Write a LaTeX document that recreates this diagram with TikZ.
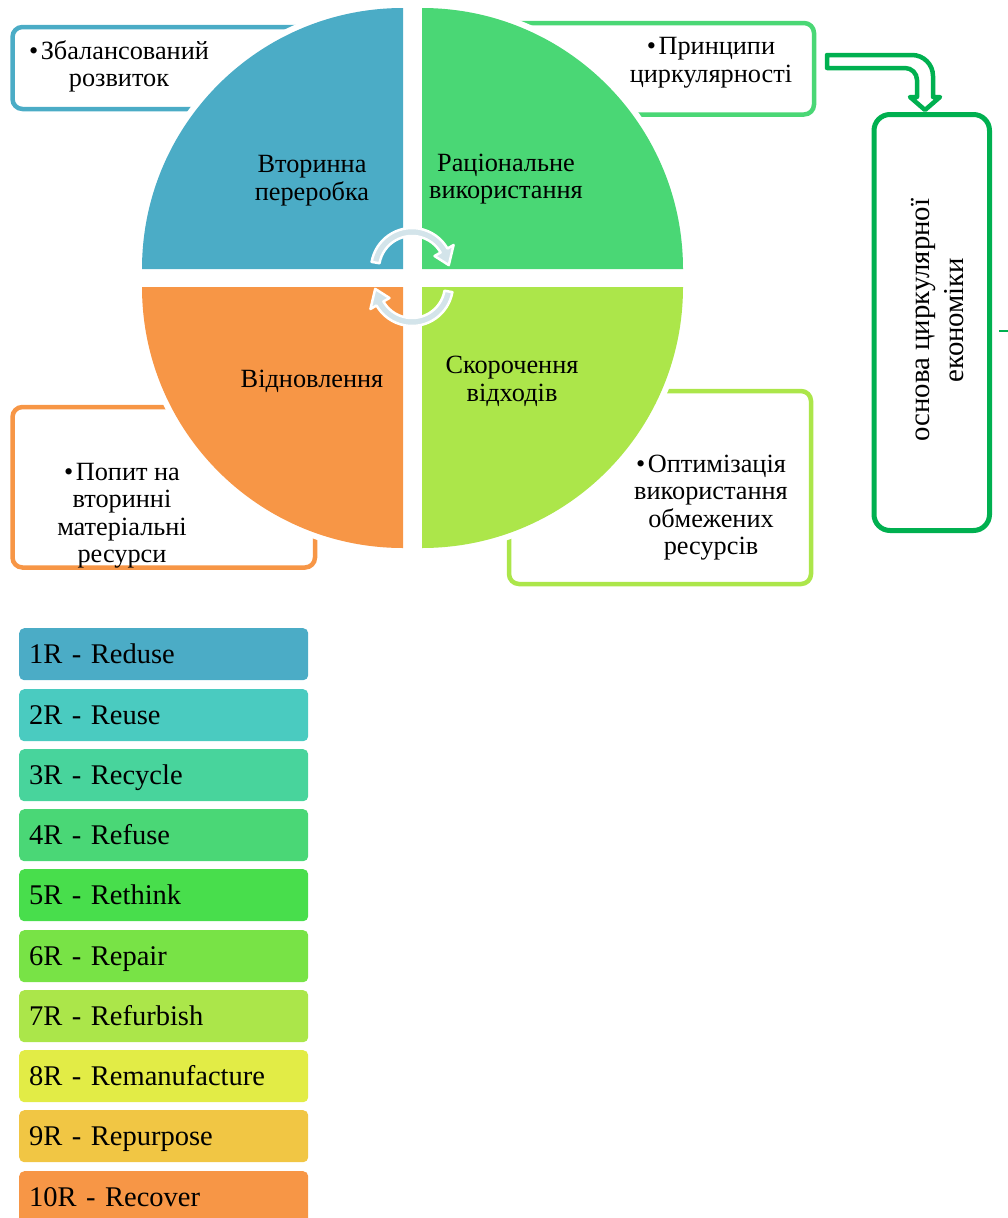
\documentclass[tikz,border=0pt]{standalone}
\usepackage{fontspec}
\setmainfont{Liberation Serif}
\usetikzlibrary{calc}
\definecolor{cBlue}{HTML}{4BACC6}
\definecolor{cGreen}{HTML}{4AD775}
\definecolor{cLime}{HTML}{ACE64A}
\definecolor{cOrange}{HTML}{F79646}
\definecolor{cDark}{HTML}{00B050}
\definecolor{cArrow}{HTML}{D3E4EA}
\definecolor{L1}{HTML}{4BACC6}
\definecolor{L2}{HTML}{4ACBC0}
\definecolor{L3}{HTML}{48D49C}
\definecolor{L4}{HTML}{4AD776}
\definecolor{L5}{HTML}{48DE4C}
\definecolor{L6}{HTML}{78E346}
\definecolor{L7}{HTML}{ABE64A}
\definecolor{L8}{HTML}{E2EC46}
\definecolor{L9}{HTML}{F1C644}
\definecolor{L10}{HTML}{F79646}
\newcommand\myqfont{\fontsize{26.3pt}{27.5pt}\selectfont}
\newcommand\myrotfont{\fontsize{28.8pt}{34pt}\selectfont}
\newcommand\mylegfont{\fontsize{28.5pt}{30pt}\selectfont}
\newcommand\bul{•\kern2.5pt}
\newcommand\drawquad[3]{%
  \fill[white] #1 -- ++(#2:267) arc[start angle=#2, delta angle=90, radius=267] -- cycle;
  \fill[#3] #1 -- ++(#2:261) arc[start angle=#2, delta angle=90, radius=261] -- cycle;}
\newcommand\cycarrow[2]{%
  \filldraw[fill=cArrow, draw=white, line width=2.5pt, line join=round]
   ([shift={#1}]#2+190:41) arc[start angle=#2+190, end angle=#2+330, radius=41]
   -- ([shift={#1}]#2+330:48) -- ([shift={#1}]#2+354:37) -- ([shift={#1}]#2+330:26)
   -- ([shift={#1}]#2+330:33) arc[start angle=#2+330, end angle=#2+190, radius=33] -- cycle;}
\tikzset{
  sidebox/.style={draw, line width=4.5pt, rounded corners=10pt, fill=white, inner sep=0pt},
  qtext/.style={align=center, inner sep=0pt, font=\myqfont},
  legbox/.style={anchor=north west, minimum height=52pt, text width=269pt, align=left,
     inner xsep=10pt, inner ysep=0pt, rounded corners=5pt, text height=18.5pt, text depth=0pt,
     font=\mylegfont},
}
\begin{document}
\begin{tikzpicture}[x=1pt,y=-1pt]
\useasboundingbox (0,0) rectangle (1008,1218);
% side boxes (behind the circle)
\node[sidebox, draw=cBlue, minimum width=317pt, minimum height=82pt] (tlbox) at (171,68) {};
\node[sidebox, draw=cGreen, minimum width=319pt, minimum height=91.5pt] (trbox) at (654.5,68.75) {};
\node[sidebox, draw=cOrange, minimum width=302.5pt, minimum height=160.5pt] (blbox) at (163.75,487.25) {};
\node[sidebox, draw=cLime, minimum width=302pt, minimum height=193pt] (brbox) at (660,487.5) {};
\node[sidebox, draw=cDark, line width=5pt, rounded corners=16pt, minimum width=115.5pt, minimum height=416pt] (econ) at (931.75,322.5) {};
% quadrants
\drawquad{(403,269)}{180}{cBlue}
\drawquad{(422,269)}{270}{cGreen}
\drawquad{(422,287)}{0}{cLime}
\drawquad{(403,287)}{90}{cOrange}
% cycle arrows
\cycarrow{(412,269)}{0}
\cycarrow{(412,285)}{180}
% quadrant texts
\node[qtext] (qtl) at (312,181) {\strut Вторинна\\переробка\strut};
\node[qtext] (qtr) at (506,179.5) {\strut Раціональне\\використання\strut};
\node[qtext] (qbl) at (312,381.5) {\strut Відновлення\strut};
\node[qtext] (qbr) at (512,382) {\strut Скорочення\\відходів\strut};
% side texts
\node[qtext] (ttl) at (119,67.5) {\strut \bul Збалансований\\розвиток\strut};
\node[qtext] (ttr) at (711,63) {\strut \bul Принципи\\циркулярності\strut};
\node[qtext] (tbl) at (122,516) {\strut \bul Попит на\\вторинні\\матеріальні\\ресурси\strut};
\node[qtext] (tbr) at (711,508) {\strut \bul Оптимізація\\використання\\обмежених\\ресурсів\strut};
\node[qtext, font=\myrotfont, rotate=90] (tecon) at (940,320) {\strut основа циркулярної\\економіки\strut};
% bent block arrow from trbox to econ
\coordinate (arrS) at ($(trbox.east)+(13,0)$);
\coordinate (arrT) at (econ.north -| 925,0);
\draw[line width=4.5pt, draw=cDark, fill=white, line join=round]
  (827,55) -- (912,55) arc[start angle=-90, end angle=0, radius=21]
  -- (933,97) -- (940,97) -- (925,110) -- (910,97) -- (917,97) -- (917,80)
  arc[start angle=0, end angle=-90, radius=12] -- (827,68) -- cycle;
% small cut connector at the right edge
\coordinate (cutA) at (999,331);
\coordinate (cutB) at (1008,331);
\draw[cDark, line width=2.5pt] (cutA) -- (cutB);
% legend
\foreach \t/\c/\l [count=\i] in {628/L1/1R - Reduse, 689/L2/2R - Reuse, 749/L3/3R - Recycle,
   809/L4/4R - Refuse, 869/L5/5R - Rethink, 930/L6/6R - Repair, 990/L7/7R - Refurbish,
   1050/L8/8R - Remanufacture, 1110/L9/9R - Repurpose, 1171/L10/10R - Recover}
  \node[legbox, fill=\c] (leg\i) at (19,\t) {\l};
\end{tikzpicture}
\end{document}
